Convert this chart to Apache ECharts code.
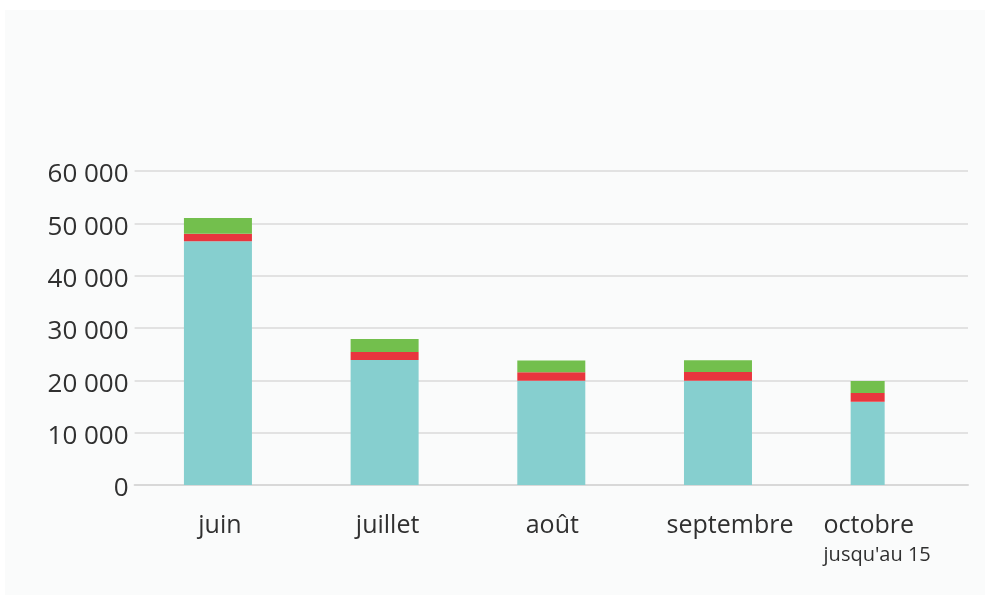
<!DOCTYPE html>
<html>
<head>
<meta charset="utf-8">
<script src="https://cdn.jsdelivr.net/npm/echarts@6/dist/echarts.min.js"></script>
<style>
html,body{margin:0;padding:0;background:#ffffff;}
#chart{width:990px;height:602px;}
</style>
</head>
<body>
<div id="chart"></div>
<script>
var categories = ['juin', 'juillet', 'août', 'septembre', 'octobre'];
var subLabel = "jusqu'au 15";
var tealValues = [46600, 23900, 19900, 19900, 15900];
var redValues = [1400, 1500, 1650, 1700, 1700];
var greenValues = [3000, 2500, 2250, 2250, 2250];
var yTicks = [0, 10000, 20000, 30000, 40000, 50000, 60000];

var colors = {teal: '#86cfcf', red: '#e8363e', green: '#73bf4d'};
var textColor = '#303030';
var lastIdx = categories.length - 1;

function mainPart(arr) { return arr.map(function (v, i) { return i === lastIdx ? null : v; }); }
function lastPart(arr) { return arr.map(function (v, i) { return i === lastIdx ? v : null; }); }

function fmtNum(v) { return String(v).replace(/\B(?=(\d{3})+(?!\d))/g, ' '); }

var series = [];
var parts = [['teal', tealValues], ['red', redValues], ['green', greenValues]];
parts.forEach(function (p) {
  series.push({type: 'bar', stack: 'half', barWidth: 34, barGap: '-100%', data: lastPart(p[1]),
    itemStyle: {color: colors[p[0]]}, silent: true});
});
parts.forEach(function (p) {
  series.push({type: 'bar', stack: 'full', barWidth: 68, barGap: '-100%', data: mainPart(p[1]),
    itemStyle: {color: colors[p[0]]}, silent: true});
});

function tok(pad, extra) {
  var o = {fontFamily: 'Open Sans', fontSize: 25, color: textColor, lineHeight: 30, padding: pad};
  if (extra) for (var k in extra) o[k] = extra[k];
  return o;
}

var chart = echarts.init(document.getElementById('chart'), null, {renderer: 'canvas'});
chart.setOption({
  backgroundColor: '#ffffff',
  animation: false,
  graphic: [{type: 'rect', z: -10, silent: true, shape: {x: 5, y: 10, width: 980, height: 585},
    style: {fill: '#fafbfb'}}],
  grid: {left: 134.6, right: 22, top: 171, bottom: 117, containLabel: false},
  xAxis: {
    type: 'category', data: categories,
    axisTick: {show: false},
    axisLine: {show: true, lineStyle: {color: '#d8d8d8', width: 2}},
    axisLabel: {
      margin: 26, interval: 0,
      fontFamily: 'Open Sans', fontSize: 25, color: textColor,
      formatter: function (v, i) {
        if (i === lastIdx) return '{o|' + v + '}\n{s|' + subLabel + '}';
        return '{c' + i + '|' + v + '}';
      },
      rich: {
        c0: tok([0, 0, 0, 4]),
        c1: tok([0, 0, 0, 6]),
        c2: tok([0, 0, 0, 2]),
        c3: tok([0, 0, 0, 24]),
        o: tok([0, 0, 0, 0], {align: 'left'}),
        s: tok([0, 15, 0, 0], {align: 'left', fontSize: 20, lineHeight: 28})
      }
    }
  },
  yAxis: {
    type: 'value', min: yTicks[0], max: yTicks[yTicks.length - 1], interval: yTicks[1] - yTicks[0],
    axisLine: {show: false}, axisTick: {show: false},
    splitLine: {lineStyle: {color: '#e2e2e2', width: 2}},
    axisLabel: {margin: 6, fontFamily: 'Open Sans', fontSize: 26, color: textColor,
      formatter: function (v) { return '{v|' + fmtNum(v) + '}'; },
      rich: {v: {fontFamily: 'Open Sans', fontSize: 26, color: textColor, lineHeight: 30, padding: [8, 0, 0, 0]}}}
  },
  series: series
});
</script>
</body>
</html>
